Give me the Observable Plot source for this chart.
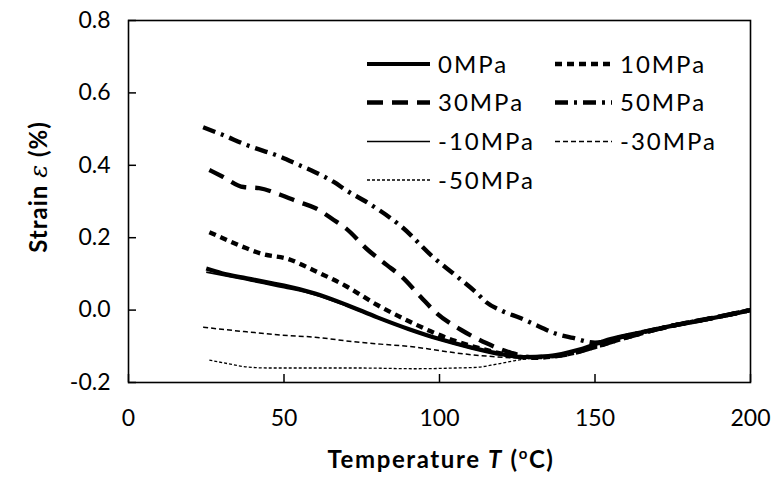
<!DOCTYPE html>
<html><head><meta charset="utf-8">
<script src="https://cdn.jsdelivr.net/npm/d3@7"></script>
<script src="https://cdn.jsdelivr.net/npm/@observablehq/plot@0.6"></script>
<style>
body{margin:0;background:#fff;}
#chart{width:776px;height:482px;}
</style></head><body><div id="chart"></div>
<script>
// Series names (legend order)
const seriesNames = ["0MPa", "10MPa", "30MPa", "50MPa", "-10MPa", "-30MPa", "-50MPa"];

// Temperature (°C) and strain (%) per series
const T_0MPa = [25, 30, 38, 45, 50, 60, 70, 80, 90, 100, 110, 120, 127, 135, 145, 155, 165, 175, 185, 192, 200];
const S_0MPa = [0.115, 0.102, 0.088, 0.076, 0.068, 0.046, 0.015, -0.02, -0.052, -0.08, -0.103, -0.122, -0.13, -0.127, -0.109, -0.08, -0.061, -0.043, -0.027, -0.015, 0.0];

const T_10MPa = [26, 30, 37, 43, 51, 60, 70, 80, 90, 97, 105, 115, 125, 130, 140, 150, 160, 175, 190, 200];
const S_10MPa = [0.215, 0.2, 0.174, 0.155, 0.142, 0.108, 0.066, 0.014, -0.03, -0.058, -0.085, -0.11, -0.128, -0.132, -0.124, -0.102, -0.076, -0.043, -0.018, 0.0];

const T_30MPa = [26, 30, 37, 42, 49, 55, 60, 66, 70, 77, 83, 88, 94, 99, 107, 115, 123, 130, 140, 150, 160, 175, 190, 200];
const S_30MPa = [0.387, 0.37, 0.34, 0.337, 0.318, 0.298, 0.282, 0.249, 0.225, 0.166, 0.125, 0.091, 0.036, -0.008, -0.055, -0.091, -0.118, -0.13, -0.124, -0.102, -0.076, -0.043, -0.018, 0.0];

const T_50MPa = [24, 30, 38, 49, 55, 60, 66, 70, 77, 88, 98, 105, 112, 115, 120, 126, 132, 137, 143, 150, 160, 175, 190, 200];
const S_50MPa = [0.505, 0.485, 0.456, 0.423, 0.40, 0.381, 0.354, 0.331, 0.296, 0.229, 0.146, 0.097, 0.047, 0.022, -0.002, -0.022, -0.045, -0.064, -0.077, -0.09, -0.071, -0.043, -0.018, 0.0];

const T_m10MPa = [25, 35, 50, 60, 70, 80, 90, 100, 110, 120, 127, 135, 145, 155, 165, 175, 185, 200];
const S_m10MPa = [0.105, 0.088, 0.062, 0.042, 0.012, -0.022, -0.054, -0.082, -0.105, -0.123, -0.131, -0.127, -0.109, -0.08, -0.061, -0.043, -0.027, 0.0];

const T_m30MPa = [24, 30, 38, 49, 60, 70, 81, 92, 97, 105, 115, 125, 130, 140, 150, 160, 175, 190, 200];
const S_m30MPa = [-0.047, -0.053, -0.06, -0.069, -0.075, -0.085, -0.094, -0.102, -0.108, -0.118, -0.127, -0.132, -0.132, -0.124, -0.102, -0.076, -0.043, -0.018, 0.0];

const T_m50MPa = [26, 32, 38, 45, 50, 60, 75, 92, 105, 112, 118, 124, 130, 135, 145, 155, 165, 175, 190, 200];
const S_m50MPa = [-0.138, -0.148, -0.157, -0.16, -0.16, -0.16, -0.16, -0.162, -0.16, -0.158, -0.15, -0.14, -0.132, -0.127, -0.11, -0.082, -0.062, -0.043, -0.018, 0.0];

// Axis ticks
const xTicks = [0, 50, 100, 150, 200];
const yTicks = [-0.2, 0.0, 0.2, 0.4, 0.6, 0.8];

const seriesT = [T_0MPa, T_10MPa, T_30MPa, T_50MPa, T_m10MPa, T_m30MPa, T_m50MPa];
const seriesS = [S_0MPa, S_10MPa, S_30MPa, S_50MPa, S_m10MPa, S_m30MPa, S_m50MPa];

// line styles per series
const lineStyle = {
  "0MPa":   {w: 4.2, dash: null},
  "10MPa":  {w: 4.4, dash: "7,5"},
  "30MPa":  {w: 4.4, dash: "16,9"},
  "50MPa":  {w: 4.4, dash: "13,6,3,6"},
  "-10MPa": {w: 1.7, dash: null},
  "-30MPa": {w: 1.5, dash: "5,3"},
  "-50MPa": {w: 1.3, dash: "3,2"}
};

const W = 776, H = 482;
const mL = 128, mR = 26, mT = 20, mB = 100;
const fw = W - mL - mR, fh = H - mT - mB;
const FONT = "Lato, 'Open Sans', sans-serif";

const data = seriesNames.map((name, i) =>
  seriesT[i].map((t, j) => ({series: name, T: t, S: seriesS[i][j]})));

// draw the thin ones first, thick on top
const order = [6, 5, 4, 0, 1, 2, 3];
const lineMarks = order.map(i => Plot.line(data[i], {
  x: "T", y: "S",
  stroke: "black",
  strokeWidth: lineStyle[seriesNames[i]].w,
  strokeDasharray: lineStyle[seriesNames[i]].dash,
  strokeLinecap: "butt",
  curve: "monotone-x"
}));

const chart = Plot.plot({
  width: W, height: H,
  marginLeft: mL, marginRight: mR, marginTop: mT, marginBottom: mB,
  style: {fontFamily: FONT, fontSize: "23px", color: "black", background: "white", overflow: "visible"},
  x: {domain: [0, 200], ticks: xTicks, label: null},
  y: {domain: [-0.2, 0.8], ticks: yTicks, label: null},
  marks: [
    Plot.axisX(xTicks, {tickSize: 0, tickPadding: 27, tickFormat: d => String(d), fill: "black", label: null}),
    Plot.axisY(yTicks, {tickSize: 0, tickPadding: 18, tickFormat: d => d.toFixed(1), fill: "black", label: null}),
    Plot.tickY(yTicks, {y: d => d, insetRight: fw - 8, stroke: "black", strokeWidth: 1.5}),
    Plot.tickX(xTicks, {x: d => d, insetTop: fh - 8, stroke: "black", strokeWidth: 1.5}),
    ...lineMarks,
    Plot.frame({stroke: "black", strokeWidth: 1.6})
  ]
});

document.getElementById("chart").appendChild(chart);

// Axis titles with mixed styling
const svg = d3.select(chart);
const xt = svg.append("text")
  .attr("x", mL + fw / 2 + 2).attr("y", 468)
  .attr("text-anchor", "middle")
  .style("font-family", FONT).style("font-size", "24px").style("font-weight", "bold")
  .style("letter-spacing", "1.6px")
  .attr("fill", "black");
xt.append("tspan").text("Temperature ");
xt.append("tspan").style("font-style", "italic").text("T");
xt.append("tspan").text(" (");
xt.append("tspan").attr("dy", -9).style("font-size", "15px").text("o");
xt.append("tspan").attr("dy", 9).text("C)");

const yt = svg.append("text")
  .attr("transform", `translate(47,${187}) rotate(-90)`)
  .attr("text-anchor", "middle")
  .style("font-family", FONT).style("font-size", "24px").style("font-weight", "bold")
  .style("letter-spacing", "1px")
  .attr("fill", "black");
yt.append("tspan").text("Strain ");
yt.append("tspan").style("font-style", "italic").style("font-family", "'DejaVu Serif', serif").style("font-weight", "normal").text("ε");
yt.append("tspan").text(" (%)");

// Legend inside the plot area
const legendItems = [
  {name: "0MPa",   col: 0, row: 0},
  {name: "10MPa",  col: 1, row: 0},
  {name: "30MPa",  col: 0, row: 1},
  {name: "50MPa",  col: 1, row: 1},
  {name: "-10MPa", col: 0, row: 2},
  {name: "-30MPa", col: 1, row: 2},
  {name: "-50MPa", col: 0, row: 3}
];
const colX = [367, 555];
const lineLen = [63, 57];
const rowY = [64, 102.5, 141.5, 180];
const lg = svg.append("g");
legendItems.forEach(it => {
  const st = lineStyle[it.name];
  const x0 = colX[it.col], y0 = rowY[it.row];
  lg.append("line")
    .attr("x1", x0).attr("x2", x0 + lineLen[it.col])
    .attr("y1", y0).attr("y2", y0)
    .attr("stroke", "black").attr("stroke-width", st.w)
    .attr("stroke-dasharray", st.dash);
  lg.append("text")
    .attr("x", x0 + lineLen[it.col] + 8).attr("y", y0)
    .attr("dy", "0.36em")
    .attr("text-anchor", "start")
    .style("font-family", FONT).style("font-size", "24px")
    .style("letter-spacing", "2px")
    .attr("fill", "black")
    .text(it.name);
});
</script>
</body></html>
